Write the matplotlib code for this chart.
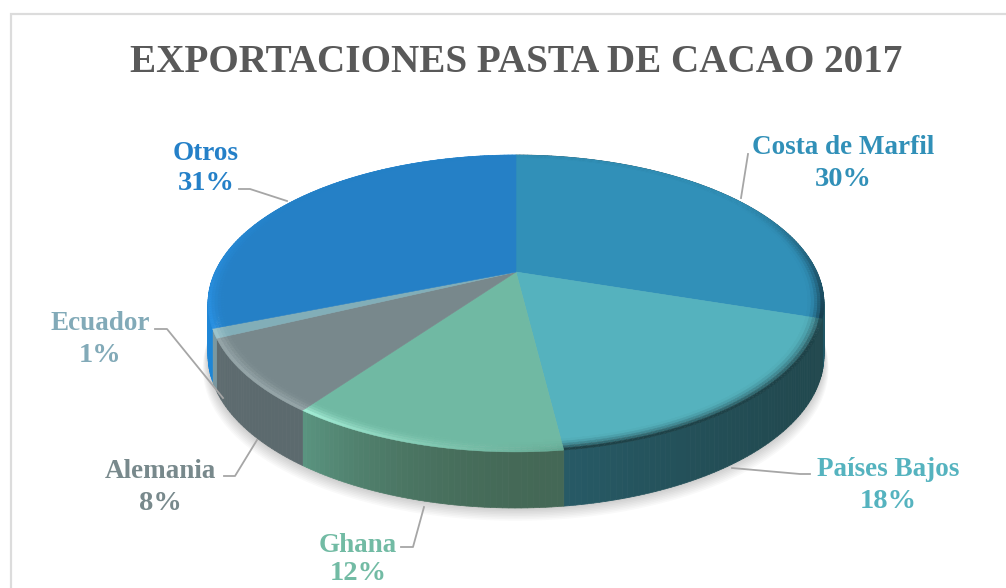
import numpy as np
import matplotlib
matplotlib.use("Agg")
import matplotlib.pyplot as plt
from matplotlib.collections import PolyCollection
from matplotlib.colors import to_rgb

paises = ["Costa de Marfil", "Países Bajos", "Ghana", "Alemania", "Ecuador", "Otros"]
valores = [30, 18, 12, 8, 1, 31]
titulo = "EXPORTACIONES PASTA DE CACAO 2017"

# colores de cara, pared y bisel; der/izq tal como se ve en pantalla
cara = ["#3190b8", "#55b2be", "#70b9a3", "#78888c", "#82aeb8", "#2580c6"]
pared_der = ["#1c4f5e", "#21484e", "#446856", "#5c6a6e", "#7a98a0", "#1e86d6"]
pared_izq = ["#1f5664", "#275a66", "#5a9480", "#5e6c70", "#7a98a0", "#1e86d6"]
bisel_der = ["#12303c", "#1d4248", "#64a993", "#93a3a6", "#9cc4cc", "#2a92e4"]
bisel_izq = ["#12303c", "#1d4248", "#a0ecd4", "#93a3a6", "#9cc4cc", "#2a92e4"]
texto = ["#3190b8", "#55b3bf", "#72bba4", "#78898c", "#82aab8", "#2480c8"]

# posicion de etiquetas: centro x, y de linea 1, y de linea 2
etiquetas = [(843, 148, 180), (888, 469, 501), (358, 546, 574),
             (160, 472, 503), (100, 323, 355), (206, 153, 184)]
guias = [[(748, 154), (741, 198)],
         [(732, 468), (800, 474), (810, 474)],
         [(401, 547), (413, 547), (424, 507)],
         [(224, 476), (235, 476), (257, 440)],
         [(155, 329), (167, 329), (223, 398)],
         [(239, 189), (250, 189), (287, 201)]]

CX, CY = 516, 272
R, S, K = 301, 141.8, 0.212


def proyectar(theta, r=1.0, fondo=False):
    """disco (angulo horario desde arriba) a pixeles, con perspectiva"""
    u = r * np.sin(theta)
    v = -r * np.cos(theta)
    w = 1 - K * v
    x = CX + R * u / w
    y = CY + S * v / w
    if fondo:
        y = y + 51 / (1 - 0.09 * v)
    return x, y


def mezcla(c1, c2, t):
    a, b = np.array(to_rgb(c1)), np.array(to_rgb(c2))
    return tuple(a + (b - a) * t)


fig = plt.figure(figsize=(10.06, 5.88), dpi=100)
ax = fig.add_axes([0, 0, 1, 1])
ax.set_xlim(0, 1006)
ax.set_ylim(588, 0)
ax.axis("off")

# marco del grafico (abierto a la derecha y abajo)
ax.plot([11.5, 11.5, 1006], [588, 14, 14], color="#dcdcdc", lw=1.6,
        solid_joinstyle="miter")

limites = np.radians(np.concatenate([[0], np.cumsum(valores)]) * 3.6)

# sombra
t = np.linspace(np.pi * 0.3, np.pi * 1.6, 200)
for i in range(9):
    x, y = proyectar(t, 1.0, fondo=True)
    xm = x.mean()
    ax.fill(xm + (x - xm) * (1 + i * 0.002), y + i * 1.6,
            color="black", alpha=0.022, lw=0, zorder=1)

# paredes
for i in range(len(valores)):
    t = np.linspace(limites[i], limites[i + 1], max(int(valores[i] * 4), 4))
    xs, ys = proyectar(t)
    xb, yb = proyectar(t, fondo=True)
    polys, cols = [], []
    for j in range(len(t) - 1):
        polys.append([(xs[j], ys[j]), (xs[j + 1], ys[j + 1]),
                      (xb[j + 1], yb[j + 1]), (xb[j], yb[j])])
        f = j / max(len(t) - 2, 1)
        cols.append(mezcla(pared_der[i], pared_izq[i], f ** 2))
    ax.add_collection(PolyCollection(polys, facecolors=cols, edgecolors=cols,
                                     linewidths=0.5, zorder=2))

# cara superior
for i in range(len(valores)):
    t = np.linspace(limites[i], limites[i + 1], max(int(valores[i] * 4), 4))
    x, y = proyectar(t, 0.97)
    ax.fill(np.r_[CX, x], np.r_[CY, y], color=cara[i], lw=0.4, zorder=3)

# bisel del borde, solo se nota hacia el frente
anillos = np.linspace(0.95, 1.0, 6)
for i in range(len(valores)):
    t = np.linspace(limites[i], limites[i + 1], max(int(valores[i] * 4), 4))
    polys, cols = [], []
    for k in range(len(anillos) - 1):
        x1, y1 = proyectar(t, anillos[k])
        x2, y2 = proyectar(t, anillos[k + 1])
        m = ((k + 1) / (len(anillos) - 1)) ** 2
        for j in range(len(t) - 1):
            polys.append([(x1[j], y1[j]), (x1[j + 1], y1[j + 1]),
                          (x2[j + 1], y2[j + 1]), (x2[j], y2[j])])
            f = j / max(len(t) - 2, 1)
            borde = mezcla(bisel_der[i], bisel_izq[i], f)
            peso = np.clip(-np.cos(t[j]) + 0.55, 0, 1)
            cols.append(mezcla(cara[i], borde, m * peso))
    ax.add_collection(PolyCollection(polys, facecolors=cols, edgecolors=cols,
                                     linewidths=0.3, zorder=3))

# lineas guia
for g in guias:
    ax.plot([p[0] for p in g], [p[1] for p in g], color="#a6a6a6", lw=1.3,
            zorder=4)

ax.text(516, 62, titulo, ha="center", va="center", color="#595959",
        family="Liberation Serif", weight="bold", fontsize=28.2)

for i in range(len(valores)):
    xc, y1, y2 = etiquetas[i]
    ax.text(xc, y1, paises[i], ha="center", va="center", color=texto[i],
            family="Liberation Serif", weight="bold", fontsize=19.5)
    ax.text(xc, y2, str(valores[i]) + "%", ha="center", va="center",
            color=texto[i], family="Liberation Serif", weight="bold",
            fontsize=20.5)

fig.savefig("out.png", dpi=100, facecolor="white")
